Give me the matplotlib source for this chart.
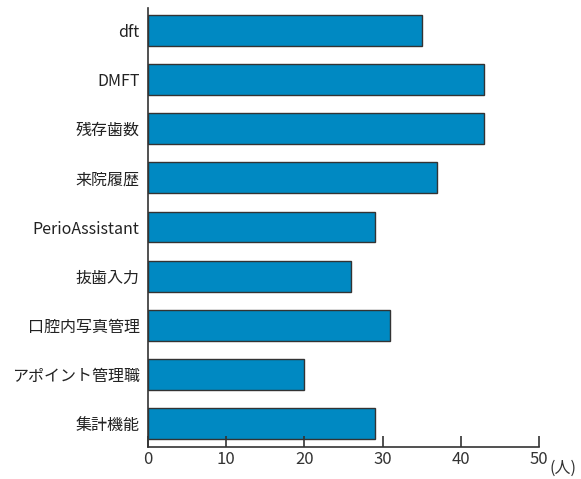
import matplotlib
matplotlib.use("Agg")
import matplotlib.pyplot as plt

plt.rcParams['font.family'] = ['Noto Sans CJK JP', 'DejaVu Sans']

categories = ["dft", "DMFT", "残存歯数", "来院履歴", "PerioAssistant", "抜歯入力",
              "口腔内写真管理", "アポイント管理職", "集計機能"]
values = [35, 43, 43, 37, 29, 26, 31, 20, 29]
xticks = [0, 10, 20, 30, 40, 50]

fig = plt.figure(figsize=(5.81, 4.79), dpi=100)
ax = fig.add_axes([148/581, 1 - 447/479, (539 - 148)/581, (447 - 8)/479])

n = len(categories)
ypos = list(range(n - 1, -1, -1))
ax.barh(ypos, values, height=0.63, color='#0089c2', edgecolor='#333333', linewidth=1.0)

ax.set_xlim(0, 50)
ax.set_ylim(-0.315 - 0.16, n - 1 + 0.315 + 0.14)
ax.set_yticks(ypos)
ax.set_yticklabels(categories, fontsize=11.5, color='#222222')
ax.set_xticks(xticks)
ax.set_xticklabels([str(t) for t in xticks], fontsize=12, color='#333333')
ax.tick_params(axis='y', length=0, pad=6)
ax.tick_params(axis='x', direction='in', length=8, width=1.2, color='#333333', pad=3)
for s in ['top', 'right']:
    ax.spines[s].set_visible(False)
for s in ['left', 'bottom']:
    ax.spines[s].set_color('#333333')
    ax.spines[s].set_linewidth(1.2)

ax.text(51.3, -0.9, '(人)', fontsize=11.5, color='#333333', ha='left', va='center',
        transform=ax.transData, clip_on=False)

fig.savefig('out.png', dpi=100)
